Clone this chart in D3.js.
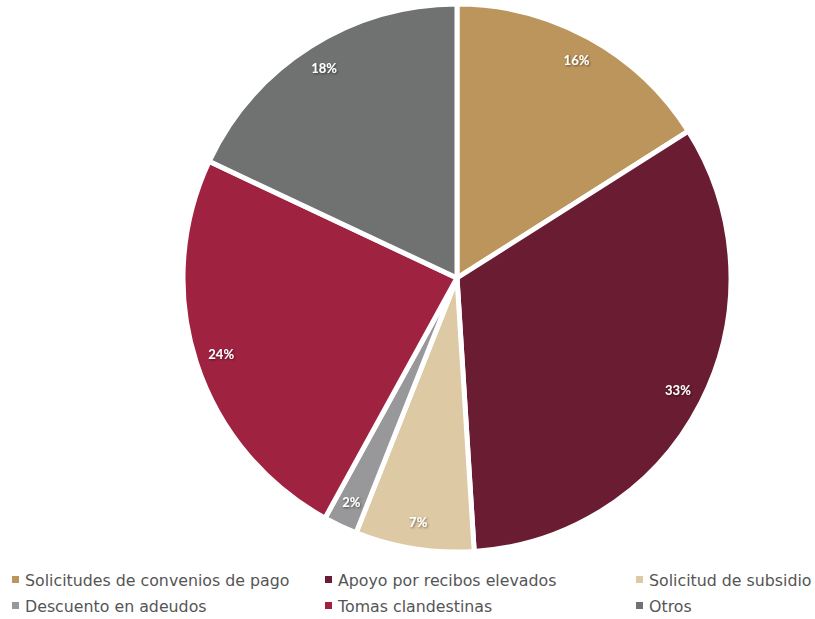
<!DOCTYPE html>
<html><head><meta charset="utf-8">
<script src="https://cdn.jsdelivr.net/npm/d3@7/dist/d3.min.js"></script>
<style>body{margin:0;background:#fff;}svg{display:block;}</style>
</head><body>
<svg id="chart" width="815" height="619"></svg>
<script>
const categories = ["Solicitudes de convenios de pago","Apoyo por recibos elevados","Solicitud de subsidio","Descuento en adeudos","Tomas clandestinas","Otros"];
const values = [16, 33, 7, 2, 24, 18];
const colors = ["#BC955C","#691C32","#DDC9A3","#98989A","#9F2241","#6F7271"];

const svg = d3.select("#chart");
const cx = 457, cy = 278, r = 274;
const data = categories.map((c,i)=>({cat:c, value:values[i], color:colors[i]}));
const pie = d3.pie().value(d=>d.value).sort(null);
const arc = d3.arc().innerRadius(0).outerRadius(r);
const labelArc = d3.arc().innerRadius(r*0.905).outerRadius(r*0.905);
const defs = svg.append("defs");
const f = defs.append("filter").attr("id","sh").attr("x","-20%").attr("y","-20%").attr("width","140%").attr("height","140%");
f.append("feDropShadow").attr("dx",1).attr("dy",1).attr("stdDeviation",0.8).attr("flood-color","#000").attr("flood-opacity",0.5);

const g = svg.append("g").attr("transform",`translate(${cx},${cy})`);
const arcs = pie(data);
g.selectAll("path").data(arcs).join("path")
  .attr("d",arc).attr("fill",d=>d.data.color)
  .attr("stroke","#fff").attr("stroke-width",5).attr("stroke-linejoin","miter");
g.selectAll("text").data(arcs).join("text")
  .attr("transform",d=>`translate(${labelArc.centroid(d)})`)
  .attr("text-anchor","middle").attr("dy","0.35em")
  .attr("font-family","Lato, sans-serif").attr("font-weight","bold").attr("font-size",13)
  .attr("fill","#fff").attr("filter","url(#sh)")
  .text(d=>d.data.value+"%");

const legX = [12, 325, 636], legY = [580, 606];
const lg = svg.append("g");
data.forEach((d,i)=>{
  const col = i%3, row = Math.floor(i/3);
  const it = lg.append("g").attr("transform",`translate(${legX[col]},${legY[row]})`);
  it.append("rect").attr("x",0).attr("y",-4).attr("width",7).attr("height",7).attr("fill",d.color);
  it.append("text").attr("x",13).attr("y",0).attr("dy","0.35em")
    .attr("font-family","DejaVu Sans, sans-serif").attr("font-size",15.8).attr("fill","#555")
    .text(d.cat);
});
</script>
</body></html>
